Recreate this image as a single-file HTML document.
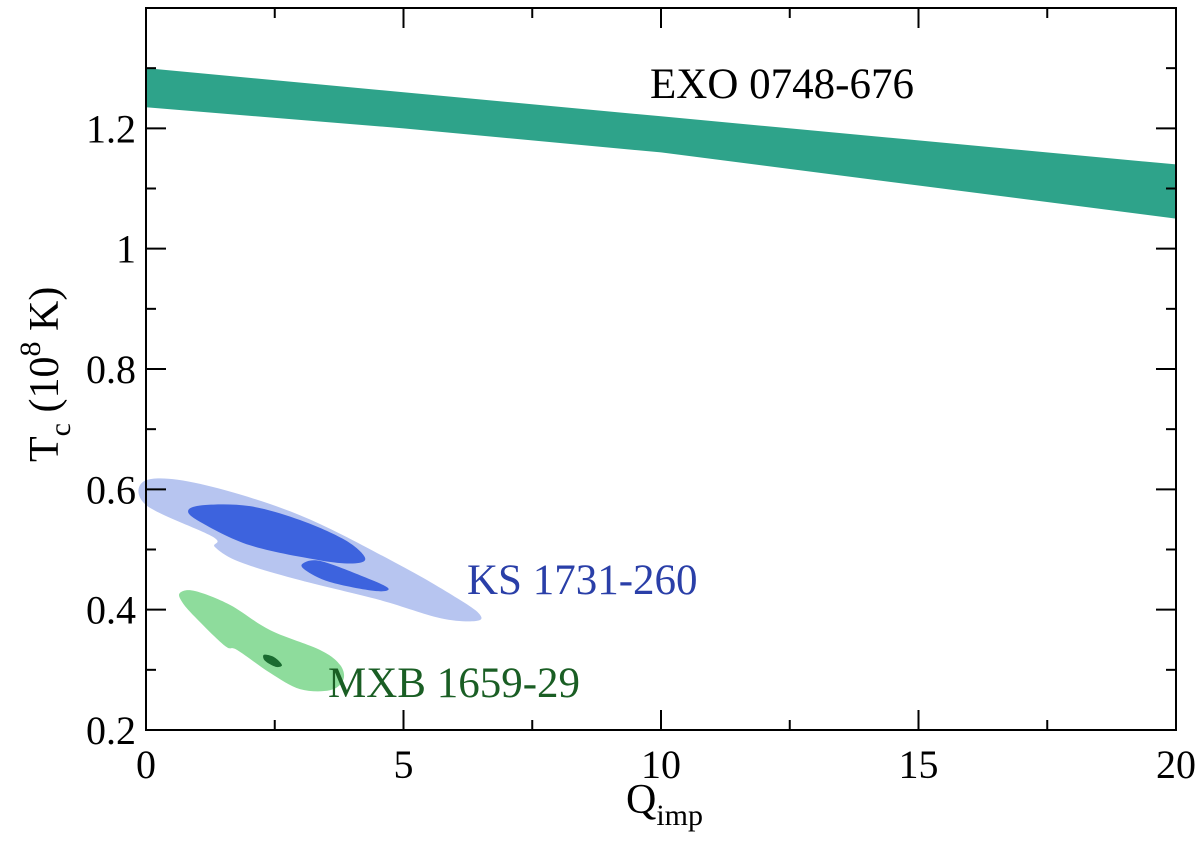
<!DOCTYPE html>
<html><head><meta charset="utf-8"><style>
body{margin:0;background:#fff}
svg text{font-family:"Liberation Serif","Times New Roman",serif}
</style></head><body>
<svg id="chart" width="1200" height="840" font-family="Liberation Serif, serif">
<g id="marks"></g>
<g id="axes"></g>
<text x="650" y="98" font-size="43">EXO 0748-676</text>
<text x="467" y="594" font-size="43" fill="#2a3fa8">KS 1731-260</text>
<text x="328" y="697" font-size="43" fill="#1a5e24">MXB 1659-29</text>
<text x="626" y="813" font-size="42">Q<tspan font-size="30" dy="12">imp</tspan></text>
<text transform="translate(58,462) rotate(-90)" font-size="42">T<tspan font-size="30" dy="12">c</tspan><tspan dy="-12"> (10</tspan><tspan font-size="30" dy="-18">8</tspan><tspan dy="18"> K)</tspan></text>
</svg>
<script>
const xTicks=[0,5,10,15,20];
const xMinor=[2.5,7.5,12.5,17.5];
const yTicks=[0.2,0.4,0.6,0.8,1,1.2];
const yTickLabels=["0.2","0.4","0.6","0.8","1","1.2"];
const yMinor=[0.3,0.5,0.7,0.9,1.1,1.3];
const exoX=[0,5,10,15,20];
const exoTop=[1.30,1.26,1.22,1.18,1.14];
const exoBot=[1.235,1.20,1.16,1.105,1.05];
const ksOuter=[[0,0.615],[1.05,0.609],[2.99,0.557],[4.93,0.474],[6.10,0.416],[6.49,0.391],[6.39,0.381],[5.71,0.386],[4.54,0.416],[2.99,0.449],[1.83,0.479],[1.34,0.504],[1.30,0.521],[0,0.574]];
const ksInner1=[[0.82,0.565],[1.15,0.574],[2.02,0.572],[2.99,0.549],[3.86,0.516],[4.25,0.487],[4.06,0.477],[3.38,0.482],[2.02,0.507],[1.05,0.546]];
const ksInner2=[[3.05,0.477],[3.38,0.481],[4.16,0.457],[4.70,0.436],[4.45,0.431],[3.57,0.446],[3.09,0.466]];
const mxbOuter=[[0.66,0.428],[0.95,0.431],[1.63,0.408],[2.41,0.366],[3.38,0.333],[3.77,0.308],[3.83,0.283],[3.57,0.266],[2.99,0.268],[2.41,0.295],[1.77,0.333],[1.53,0.340],[0.95,0.388],[0.70,0.413]];
const mxbInner=[[2.29,0.325],[2.49,0.321],[2.64,0.308],[2.52,0.305],[2.31,0.315]];

const X0=146,X1=1176,Y0=730,Y1=8,xmin=0,xmax=20,ymin=0.2,ymax=1.4;
const sx=v=>X0+(v-xmin)/(xmax-xmin)*(X1-X0);
const sy=v=>Y0-(v-ymin)/(ymax-ymin)*(Y0-Y1);
const NS='http://www.w3.org/2000/svg';
const marks=document.getElementById('marks'),axes=document.getElementById('axes');
function mk(tag,attrs,parent){const e=document.createElementNS(NS,tag);for(const k in attrs)e.setAttribute(k,attrs[k]);parent.appendChild(e);return e;}
function smooth(pts){const p=pts.map(q=>[sx(q[0]),sy(q[1])]);const n=p.length;let d=`M${p[0][0]},${p[0][1]}`;
for(let i=0;i<n;i++){const p0=p[(i-1+n)%n],p1=p[i],p2=p[(i+1)%n],p3=p[(i+2)%n];
d+=`C${p1[0]+(p2[0]-p0[0])/6},${p1[1]+(p2[1]-p0[1])/6} ${p2[0]-(p3[0]-p1[0])/6},${p2[1]-(p3[1]-p1[1])/6} ${p2[0]},${p2[1]}`;}
return d+'Z';}
let d='M'+exoX.map((x,i)=>sx(x)+','+sy(exoTop[i])).join('L');
for(let i=exoX.length-1;i>=0;i--)d+='L'+sx(exoX[i])+','+sy(exoBot[i]);
let e=mk('path',{d:d+'Z',fill:'#2ea38a'},marks);


e=mk('path',{d:smooth(ksOuter),fill:'#b7c5f0'},marks);


e=mk('path',{d:smooth(ksInner1),fill:'#3d63de'},marks);


e=mk('path',{d:smooth(ksInner2),fill:'#3d63de'},marks);


e=mk('path',{d:smooth(mxbOuter),fill:'#8edc9c'},marks);


e=mk('path',{d:smooth(mxbInner),fill:'#1a6b30'},marks);


e=mk('rect',{x:X0,y:Y1,width:X1-X0,height:Y0-Y1,fill:'none',stroke:'#000','stroke-width':2},axes);


xTicks.forEach(v=>{const x=sx(v);
mk('line',{x1:x,x2:x,y1:Y0,y2:Y0-20,stroke:'#000','stroke-width':2},axes);
mk('line',{x1:x,x2:x,y1:Y1,y2:Y1+20,stroke:'#000','stroke-width':2},axes);
const t=mk('text',{x:x,y:778,'text-anchor':'middle','font-size':40},axes);t.textContent=v;

});
xMinor.forEach(v=>{const x=sx(v);
mk('line',{x1:x,x2:x,y1:Y0,y2:Y0-10,stroke:'#000','stroke-width':2},axes);
mk('line',{x1:x,x2:x,y1:Y1,y2:Y1+10,stroke:'#000','stroke-width':2},axes);});
yTicks.forEach((v,i)=>{const y=sy(v);
mk('line',{x1:X0,x2:X0+20,y1:y,y2:y,stroke:'#000','stroke-width':2},axes);
mk('line',{x1:X1,x2:X1-20,y1:y,y2:y,stroke:'#000','stroke-width':2},axes);
const t=mk('text',{x:136,y:y+14,'text-anchor':'end','font-size':40},axes);t.textContent=yTickLabels[i];

});
yMinor.forEach(v=>{const y=sy(v);
mk('line',{x1:X0,x2:X0+10,y1:y,y2:y,stroke:'#000','stroke-width':2},axes);
mk('line',{x1:X1,x2:X1-10,y1:y,y2:y,stroke:'#000','stroke-width':2},axes);});
</script>
</body></html>
